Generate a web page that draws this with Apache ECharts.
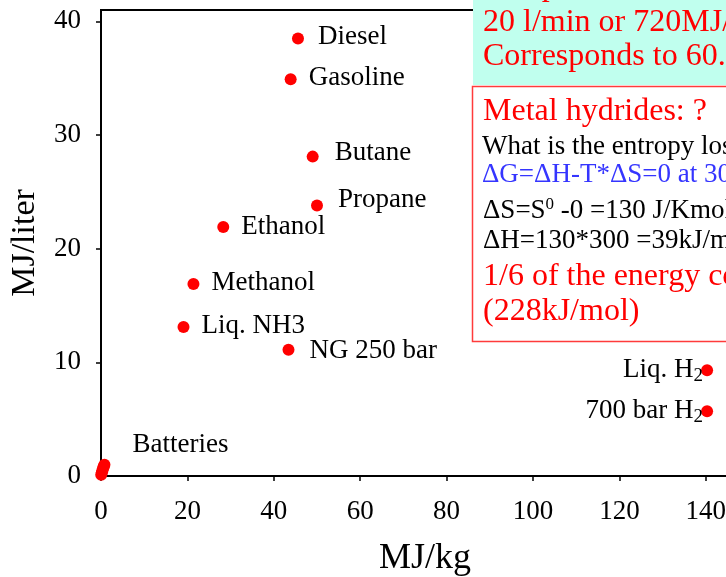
<!DOCTYPE html>
<html>
<head>
<meta charset="utf-8">
<script src="https://cdn.jsdelivr.net/npm/echarts@6/dist/echarts.min.js"></script>
<style>
  html, body { margin: 0; padding: 0; background: #fff; }
  #chart { width: 726px; height: 577px; }
</style>
</head>
<body>
<div id="chart"></div>
<script>
// Energy density of fuels: gravimetric (MJ/kg) vs volumetric (MJ/liter)
const fuels = ['Diesel', 'Gasoline', 'Butane', 'Propane', 'Ethanol', 'Methanol', 'Liq. NH3', 'NG 250 bar', 'Liq. H2', '700 bar H2'];
const mjPerKg = [45.6, 43.9, 49.0, 50.0, 28.3, 21.4, 19.1, 43.4, 140.3, 140.3];
const mjPerLiter = [38.5, 34.9, 28.1, 23.8, 21.9, 16.9, 13.1, 11.1, 9.3, 5.7];

// Battery chemistries cluster near the origin
const batteryKg = [0.05, 0.2, 0.35, 0.5, 0.65, 0.8];
const batteryLiter = [0.1, 0.3, 0.5, 0.7, 0.85, 1.0];

const xTicks = [0, 20, 40, 60, 80, 100, 120, 140];
const yTicks = [0, 10, 20, 30, 40];

// Label placement tweaks (pixels) per fuel
const labelNudge = {
  'Diesel': { pos: 'right', off: [2, -2] },
  'Gasoline': { pos: 'right', off: [0, -1] },
  'Butane': { pos: 'right', off: [4, -4] },
  'Propane': { pos: 'right', off: [3, -6] },
  'Ethanol': { pos: 'right', off: [0, 0] },
  'Methanol': { pos: 'right', off: [0, -1] },
  'Liq. NH3': { pos: 'right', off: [0, -1] },
  'NG 250 bar': { pos: 'right', off: [3, 1] },
  'Liq. H2': { pos: 'left', off: [2, 0] },
  '700 bar H2': { pos: 'left', off: [2, 0] }
};

const serif = '"Liberation Serif", "Times New Roman", serif';
const red = '#ff0000';

const fuelData = fuels.map((name, i) => {
  const n = labelNudge[name];
  return {
    name: name,
    value: [mjPerKg[i], mjPerLiter[i]],
    label: { position: n.pos, offset: n.off, distance: n.pos === 'left' ? 0 : 12 }
  };
});

const batteryData = batteryKg.map((kg, i) => ({
  name: 'Batteries',
  value: [kg, batteryLiter[i]],
  label: { show: i === batteryKg.length - 1, position: 'right', distance: 12, offset: [10, -20] }
}));

const labelRich = {
  t: { fontSize: 27, fontFamily: serif, color: '#000', lineHeight: 30 },
  s: { fontSize: 19, fontFamily: serif, color: '#000', lineHeight: 14, verticalAlign: 'bottom' }
};

function fuelLabel(p) {
  if (/ H2$/.test(p.name)) {
    return '{t|' + p.name.slice(0, -1) + '}{s|2}';
  }
  return '{t|' + p.name + '}';
}

const boxText = (x, y, text, size, color, rich) => ({
  type: 'text',
  x: x,
  y: y,
  z: 102,
  style: {
    text: text,
    fill: color,
    fontSize: size,
    fontFamily: serif,
    align: 'left',
    verticalAlign: 'middle',
    rich: rich
  }
});

const supRich = {
  a: { fontSize: 27, fontFamily: serif, fill: '#000', lineHeight: 30 },
  p: { fontSize: 17, fontFamily: serif, fill: '#000', lineHeight: 22, verticalAlign: 'top' }
};

const chart = echarts.init(document.getElementById('chart'), null, { renderer: 'canvas' });

chart.setOption({
  animation: false,
  backgroundColor: '#fff',
  grid: {
    left: 101, top: 10, width: 648, height: 466,
    outerBoundsMode: 'none',
    containLabel: false,
    show: true, borderColor: '#000', borderWidth: 2, backgroundColor: 'transparent'
  },
  xAxis: {
    type: 'value',
    min: 0,
    max: 150,
    name: 'MJ/kg',
    nameLocation: 'middle',
    nameGap: 65,
    nameTextStyle: { fontSize: 36, fontFamily: serif, color: '#000' },
    axisLine: { show: true, lineStyle: { color: '#000', width: 2 } },
    axisTick: { show: true, length: 5, lineStyle: { color: '#000', width: 1.5 }, customValues: xTicks },
    axisLabel: { fontSize: 27, fontFamily: serif, color: '#000', margin: 22, customValues: xTicks },
    splitLine: { show: false }
  },
  yAxis: {
    type: 'value',
    min: 0,
    max: 41,
    name: 'MJ/liter',
    nameLocation: 'middle',
    nameGap: 59,
    nameTextStyle: { fontSize: 34, fontFamily: serif, color: '#000' },
    axisLine: { show: true, lineStyle: { color: '#000', width: 2 } },
    axisTick: { show: true, length: 5, lineStyle: { color: '#000', width: 1.5 }, customValues: yTicks },
    axisLabel: { fontSize: 27, fontFamily: serif, color: '#000', margin: 20, customValues: yTicks },
    splitLine: { show: false }
  },
  series: [
    {
      name: 'Fuels',
      type: 'scatter',
      symbol: 'circle',
      symbolSize: 12,
      itemStyle: { color: red, opacity: 1 },
      label: { show: true, color: '#000', formatter: fuelLabel, rich: labelRich },
      data: fuelData
    },
    {
      name: 'Batteries',
      type: 'scatter',
      symbol: 'circle',
      symbolSize: 12,
      itemStyle: { color: red, opacity: 1 },
      label: { color: '#000', formatter: '{t|Batteries}', rich: labelRich },
      data: batteryData
    }
  ],
  graphic: [
    { type: 'rect', z: 100, shape: { x: 473, y: 0, width: 260, height: 85 }, style: { fill: '#c0ffee' } },
    boxText(483, -13, 'Pump rate', 32, red),
    boxText(483, 23, '20 l/min or 720MJ/min', 32, red),
    boxText(483, 57, 'Corresponds to 60.', 32, red),
    { type: 'rect', z: 101, shape: { x: 472.5, y: 86.5, width: 270, height: 255 }, style: { fill: '#fff', stroke: '#ff3b3b', lineWidth: 1.5 } },
    boxText(483, 112, 'Metal hydrides: ?', 32, red),
    boxText(482, 147, 'What is the entropy loss', 27, '#000'),
    boxText(482, 175, 'ΔG=ΔH-T*ΔS=0 at 300K', 27, '#3535ff'),
    boxText(483, 211, '{a|ΔS=S}{p|0}{a| -0 =130 J/Kmol}', 27, '#000', supRich),
    boxText(483, 241, 'ΔH=130*300 =39kJ/mol', 27, '#000'),
    boxText(483, 277, '1/6 of the energy content', 32, red),
    boxText(483, 312, '(228kJ/mol)', 32, red)
  ]
});
</script>
</body>
</html>
